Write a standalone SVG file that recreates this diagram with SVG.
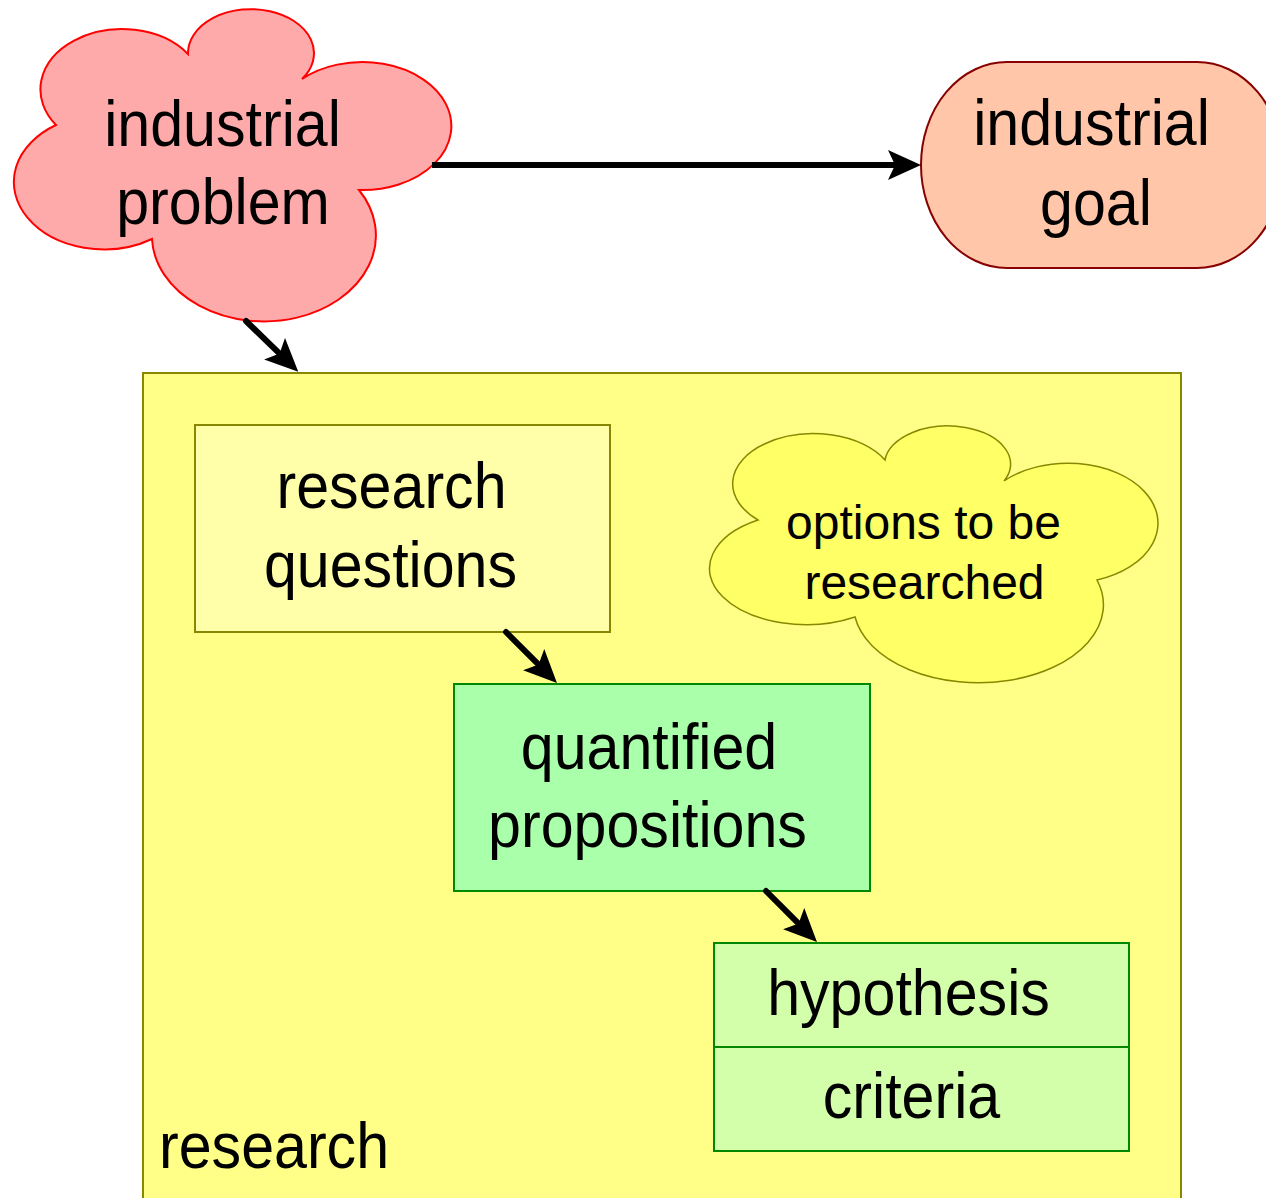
<svg xmlns="http://www.w3.org/2000/svg" width="1266" height="1198" viewBox="0 0 1266 1198">
<style>
.t{font-family:"Liberation Sans",Arial,sans-serif;font-size:65px;fill:#000;text-anchor:middle}
.ts{font-family:"Liberation Sans",Arial,sans-serif;font-size:48px;fill:#000;text-anchor:middle}
.conn{stroke:#000;stroke-width:6;fill:none;stroke-linecap:round}
</style>
<defs>
<marker id="ah" markerUnits="userSpaceOnUse" viewBox="0 0 33 30" markerWidth="33" markerHeight="30" refX="7" refY="15" orient="auto">
<path d="M0,0 L33,15 L0,30 L7,15 Z" fill="#000"/>
</marker>
</defs>
<rect width="1266" height="1198" fill="#fff"/>

<g id="research">
<rect x="143" y="373" width="1038" height="840" fill="#ffff88" stroke="#888800" stroke-width="2"/>
<text class="t" style="text-anchor:start" transform="translate(159,1168) scale(0.91,1)">research</text>
</g>

<g id="industrial-problem">
<path d="M188,54 A63,44 0 1 1 302,79 A89,64 0 1 1 359,190 A112,86 0 1 1 152,239 A87,65 0 1 1 56,125 A81,60 0 1 1 188,54 Z" fill="#ffaaaa" stroke="#ff0000" stroke-width="2"/>
<text class="t" transform="translate(222.5,146) scale(0.91,1)">industrial</text>
<text class="t" transform="translate(223,224) scale(0.91,1)">problem</text>
</g>

<g id="industrial-goal">
<rect x="921" y="62" width="362" height="206" rx="86" ry="103" fill="#ffc6aa" stroke="#880000" stroke-width="2"/>
<text class="t" transform="translate(1091.5,145) scale(0.91,1)">industrial</text>
<text class="t" transform="translate(1096,225) scale(0.91,1)">goal</text>
</g>

<g id="research-questions">
<rect x="195" y="425" width="415" height="207" fill="#ffffaa" stroke="#888800" stroke-width="2"/>
<text class="t" transform="translate(391.5,508) scale(0.91,1)">research</text>
<text class="t" transform="translate(390.5,587) scale(0.91,1)">questions</text>
</g>

<g id="options">
<path d="M885,460 A63,38 0 1 1 1004,481 A90,60 0 1 1 1097,580 A125,78 0 1 1 855,617 A90,52 0 1 1 758,520 A81,50 0 1 1 885,460 Z" fill="#ffff66" stroke="#888800" stroke-width="1.5"/>
<text class="ts" x="923.5" y="539">options to be</text>
<text class="ts" x="924.5" y="599">researched</text>
</g>

<g id="quantified-propositions">
<rect x="454" y="684" width="416" height="207" fill="#aaffaa" stroke="#008800" stroke-width="2"/>
<text class="t" transform="translate(649,769) scale(0.91,1)">quantified</text>
<text class="t" transform="translate(647.5,847) scale(0.91,1)">propositions</text>
</g>

<g id="hypothesis-criteria">
<rect x="714" y="943" width="415" height="208" fill="#d4ffaa" stroke="#008800" stroke-width="2"/>
<line x1="714" y1="1047" x2="1129" y2="1047" stroke="#008800" stroke-width="2"/>
<text class="t" transform="translate(908.5,1015) scale(0.91,1)">hypothesis</text>
<text class="t" transform="translate(911.5,1118) scale(0.91,1)">criteria</text>
</g>

<g id="connectors">
<line class="conn" x1="432" y1="165" x2="895" y2="165" marker-end="url(#ah)" style="stroke-linecap:butt"/>
<line class="conn" x1="246" y1="321" x2="279.6" y2="353.6" marker-end="url(#ah)"/>
<line class="conn" x1="506" y1="632" x2="538.6" y2="664.6" marker-end="url(#ah)"/>
<line class="conn" x1="766" y1="891" x2="798.6" y2="923.6" marker-end="url(#ah)"/>
</g>
</svg>
